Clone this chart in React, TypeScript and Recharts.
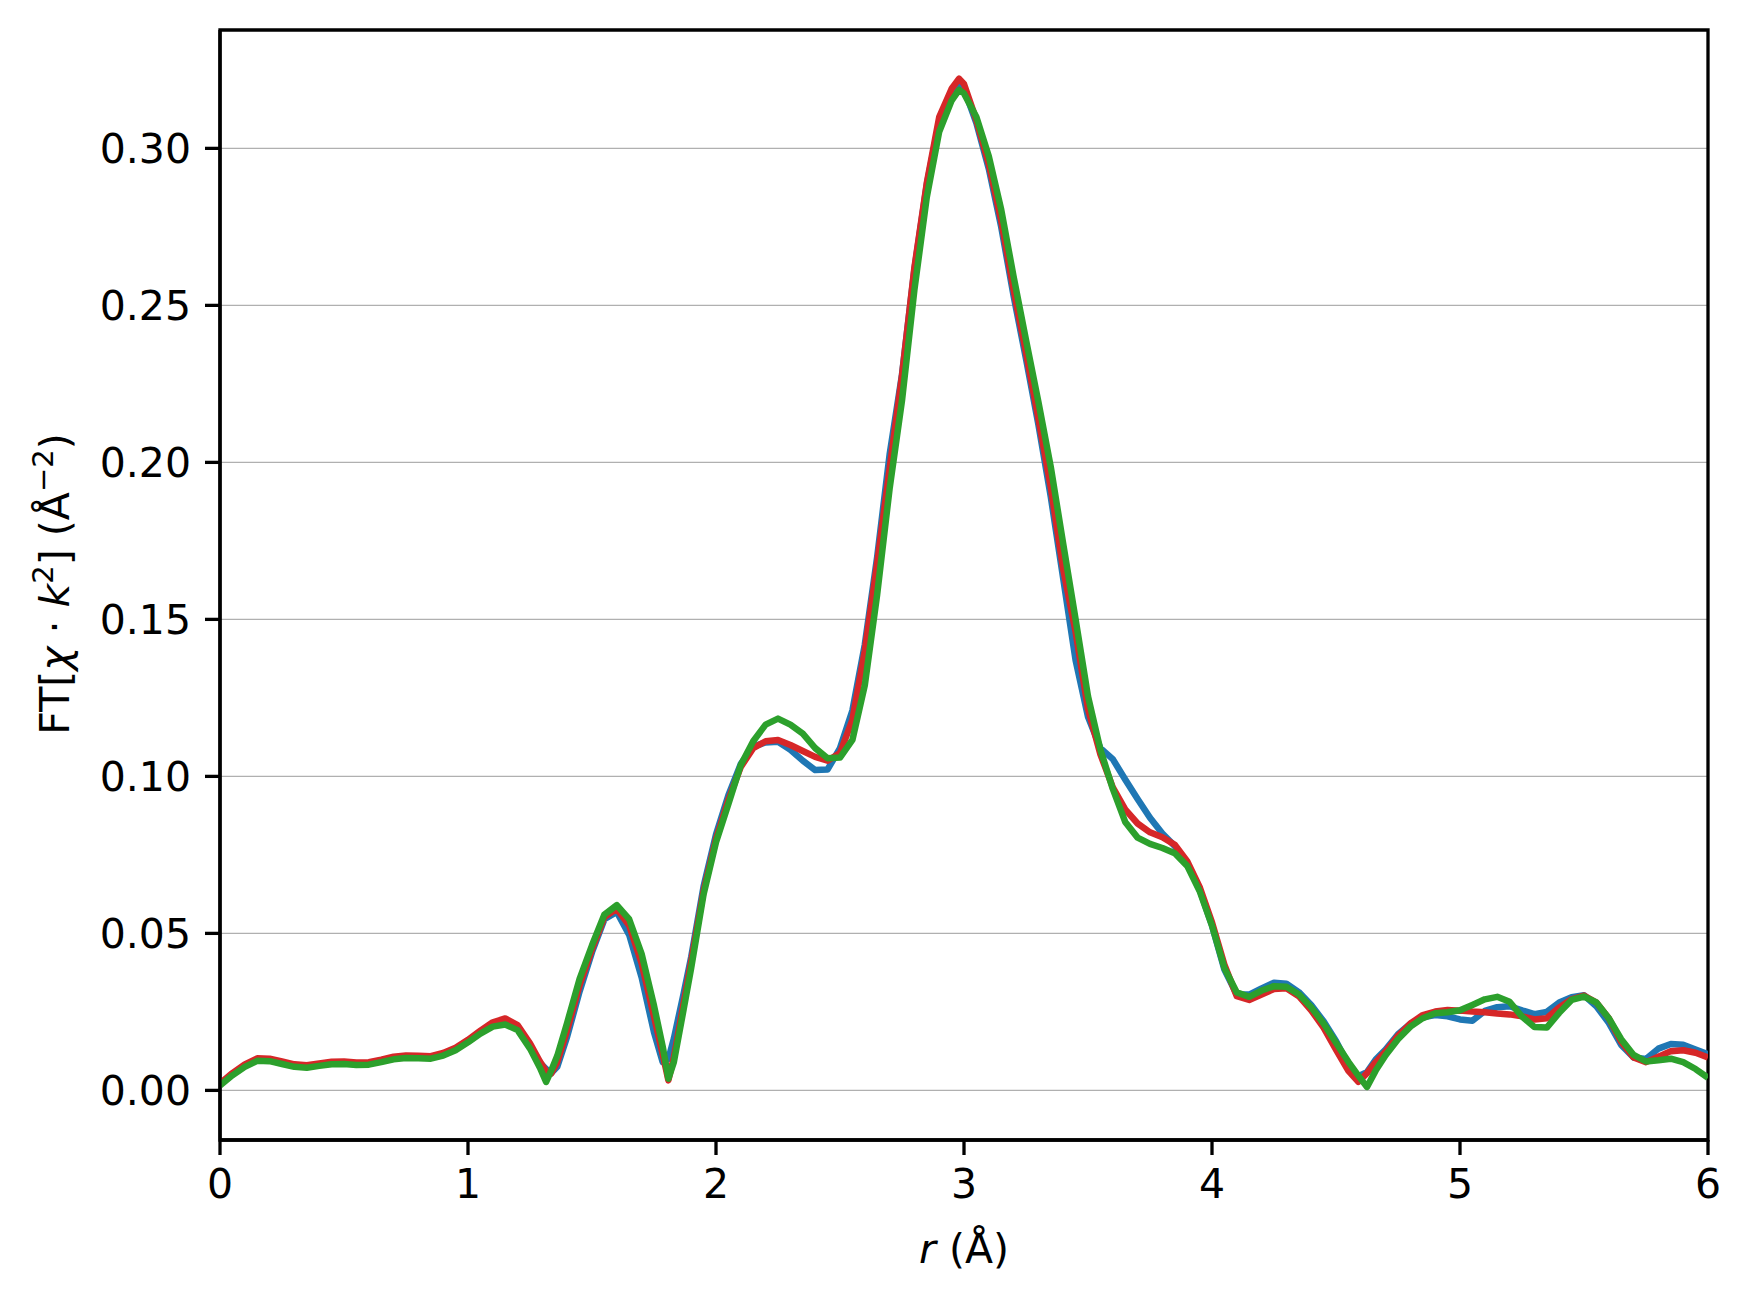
import React from 'react';
import { LineChart, Line, XAxis, YAxis, CartesianGrid, ReferenceArea, Label } from 'recharts';

// r grid (Å)
const R_VALUES = [
  0, 0.05, 0.1, 0.15, 0.2, 0.25, 0.3, 0.35, 0.4, 0.45,
  0.5, 0.55, 0.6, 0.65, 0.7, 0.75, 0.8, 0.85, 0.9, 0.95,
  1.0, 1.05, 1.1, 1.15, 1.2, 1.25,
  1.29, 1.315, 1.335, 1.36, 1.4, 1.45, 1.5, 1.55, 1.6, 1.65, 1.7, 1.75, 1.785, 1.808, 1.83, 1.87, 1.9, 1.95,
  2.0, 2.05, 2.1, 2.15, 2.2, 2.25, 2.3, 2.35, 2.4, 2.45,
  2.5, 2.55, 2.6, 2.65, 2.7, 2.75, 2.8, 2.85, 2.9, 2.95,
  2.98,
  3.0, 3.05, 3.1, 3.15, 3.2, 3.25, 3.3, 3.35, 3.4, 3.45,
  3.5, 3.55, 3.6, 3.65, 3.7, 3.75, 3.8, 3.85, 3.9, 3.95,
  4.0, 4.05, 4.1, 4.15, 4.2, 4.25, 4.3, 4.35, 4.4, 4.45,
  4.5, 4.55,
  4.59, 4.625, 4.66,
  4.7, 4.75, 4.8, 4.85, 4.9, 4.95, 5.0, 5.05, 5.1, 5.15,
  5.2, 5.25, 5.3, 5.35, 5.4, 5.45, 5.5, 5.55, 5.6, 5.65,
  5.7, 5.75, 5.8, 5.85, 5.9, 5.95, 6.0,
];

const BLUE = [
  0.0019, 0.0051, 0.0079, 0.0098, 0.0097, 0.0088, 0.0079, 0.0076, 0.0082, 0.0087,
  0.0088, 0.0085, 0.0086, 0.0094, 0.0103, 0.0107, 0.0106, 0.0105, 0.0114, 0.0131,
  0.0156, 0.0184, 0.0206, 0.0214, 0.0196, 0.014,
  0.0088, 0.0068, 0.0055, 0.0075, 0.0172, 0.0315, 0.044, 0.0545, 0.0568, 0.0495, 0.036, 0.0185, 0.009, 0.01, 0.0165, 0.031, 0.0425, 0.065,
  0.0815, 0.094, 0.104, 0.1095, 0.1108, 0.111, 0.1085, 0.105, 0.102, 0.1022,
  0.109, 0.121, 0.142, 0.17, 0.2025, 0.228, 0.2615, 0.2885, 0.3085, 0.3175,
  0.32,
  0.319, 0.308, 0.2935, 0.275, 0.253, 0.233, 0.212, 0.189, 0.163, 0.137,
  0.119, 0.109, 0.1055, 0.099, 0.0928, 0.0868, 0.0818, 0.0778, 0.072, 0.064,
  0.0525, 0.0385, 0.0305, 0.0305, 0.0325, 0.0343, 0.034, 0.0313, 0.0272, 0.022,
  0.0157, 0.0082,
  0.0045, 0.0058, 0.0098,
  0.013, 0.0179, 0.0212, 0.0233, 0.024, 0.0236, 0.0226, 0.0222, 0.0253, 0.0265,
  0.0268, 0.0255, 0.0243, 0.025, 0.028, 0.0297, 0.0303, 0.0268, 0.0215, 0.0145,
  0.0105, 0.01, 0.0133, 0.0148, 0.0145, 0.013, 0.0115,
];

const RED = [
  0.0022, 0.0055, 0.0083, 0.0102, 0.0101, 0.0092, 0.0083, 0.008, 0.0086, 0.0091,
  0.0092, 0.0089, 0.009, 0.0098, 0.0107, 0.0111, 0.011, 0.0109, 0.0119, 0.0136,
  0.0161, 0.019, 0.0217, 0.0229, 0.0208, 0.015,
  0.0092, 0.006, 0.0053, 0.009, 0.0192, 0.0335, 0.045, 0.0552, 0.0578, 0.0525, 0.0405, 0.0235, 0.0115, 0.0032, 0.0105, 0.028, 0.041, 0.0635,
  0.08, 0.0925, 0.103, 0.109, 0.1112, 0.1116, 0.11, 0.1081, 0.1062, 0.105,
  0.1074, 0.118, 0.14, 0.168, 0.198, 0.2277, 0.262, 0.289, 0.31, 0.319,
  0.3222,
  0.3205, 0.309, 0.295, 0.277, 0.255, 0.235, 0.214, 0.192, 0.166, 0.146,
  0.1215, 0.107, 0.0965, 0.0895, 0.085, 0.0822, 0.0806, 0.0782, 0.073, 0.0648,
  0.0535, 0.04, 0.03, 0.0288, 0.0305, 0.0323, 0.0325, 0.03, 0.0255, 0.02,
  0.013, 0.0062,
  0.0027, 0.0055, 0.009,
  0.0124, 0.0174, 0.0213, 0.024, 0.0251, 0.0256, 0.0254, 0.0251, 0.0249, 0.0245,
  0.0242, 0.0236, 0.0226, 0.023, 0.0264, 0.029, 0.0302, 0.028, 0.023, 0.0155,
  0.0105, 0.009, 0.0107, 0.0125, 0.0128, 0.012, 0.0105,
];

const GREEN = [
  0.0016, 0.0048, 0.0075, 0.0094, 0.0093, 0.0084, 0.0075, 0.0072, 0.0078, 0.0083,
  0.0084, 0.0081, 0.0082, 0.009, 0.0099, 0.0103, 0.0102, 0.0101, 0.0111, 0.0128,
  0.0153, 0.0181, 0.0203, 0.021, 0.0192, 0.0133,
  0.0072, 0.0027, 0.0062, 0.011, 0.0216, 0.0355, 0.0462, 0.056, 0.059, 0.0545, 0.0435, 0.027, 0.014, 0.0037, 0.009, 0.026, 0.039, 0.0625,
  0.079, 0.0912, 0.1036, 0.1112, 0.1165, 0.1184, 0.1165, 0.1136, 0.109, 0.1058,
  0.106, 0.1116, 0.129, 0.158, 0.1916, 0.2197, 0.2549, 0.2845, 0.3053, 0.3152,
  0.3186,
  0.3175, 0.31, 0.2975, 0.2805, 0.2592, 0.239, 0.2193, 0.1985, 0.1741, 0.15,
  0.1255, 0.1085, 0.096, 0.0855, 0.0805, 0.0785, 0.0772, 0.0755, 0.0715, 0.0635,
  0.0525, 0.039, 0.0312, 0.0298, 0.0318, 0.0332, 0.033, 0.0306, 0.0265, 0.0213,
  0.0152, 0.0091,
  0.0047, 0.0011, 0.0063,
  0.0112, 0.0163, 0.0203, 0.023, 0.0246, 0.0249, 0.0255, 0.0272, 0.029, 0.0298,
  0.0282, 0.0235, 0.0202, 0.02, 0.0247, 0.0288, 0.0299, 0.028, 0.023, 0.0163,
  0.0113, 0.0092, 0.0096, 0.0101, 0.009, 0.0068, 0.004,
];

const X_TICKS = [0, 1, 2, 3, 4, 5, 6];
const Y_TICKS = [0, 0.05, 0.1, 0.15, 0.2, 0.25, 0.3];
const Y_MIN = -0.0158;
const Y_MAX = 0.3377;

const FONT = 'DejaVu Sans';
const FS = 41;

const data = R_VALUES.map((r, i) => ({ r, blue: BLUE[i], red: RED[i], green: GREEN[i] }));

const XLabel = () => (
  <text x={956} y={1255} textAnchor="middle" fontFamily={FONT} fontSize={FS} fill="#000">
    <tspan fontStyle="italic">r</tspan>
    <tspan> (Å)</tspan>
  </text>
);

const YLabel = () => {
  const cx = 61;
  const cy = 576;
  return (
    <text
      x={cx}
      y={cy}
      transform={`rotate(-90, ${cx}, ${cy})`}
      textAnchor="middle"
      fontFamily={FONT}
      fontSize={FS}
      fill="#000"
    >
      <tspan>FT[</tspan>
      <tspan fontStyle="italic">χ</tspan>
      <tspan> · </tspan>
      <tspan fontStyle="italic">k</tspan>
      <tspan fontSize={29} dy={-16}>2</tspan>
      <tspan dy={16}>] (Å</tspan>
      <tspan fontSize={29} dy={-16}>−2</tspan>
      <tspan dy={16}>)</tspan>
    </text>
  );
};

const tickStyle = { fontSize: FS, fontFamily: FONT, fill: '#000' };

const App: React.FC = () => {
  return (
    <div style={{ width: 1734, height: 1285, background: '#fff' }}>
      <LineChart
        width={1734}
        height={1285}
        data={data}
        margin={{ top: 22, right: 34, bottom: 73, left: 0 }}
      >
        <CartesianGrid vertical={false} stroke="#b0b0b0" strokeWidth={1.3} />
        <XAxis
          dataKey="r"
          type="number"
          domain={[0, 6]}
          ticks={X_TICKS}
          interval={0}
          allowDataOverflow
          height={80}
          tickSize={15}
          tickMargin={14}
          tick={tickStyle}
          axisLine={{ stroke: '#000', strokeWidth: 3.3 }}
          tickLine={{ stroke: '#000', strokeWidth: 3.3 }}
        >
          <Label content={<XLabel />} />
        </XAxis>
        <YAxis
          type="number"
          domain={[Y_MIN, Y_MAX]}
          ticks={Y_TICKS}
          interval={0}
          allowDataOverflow
          width={212}
          tickSize={15}
          tickMargin={14}
          tick={tickStyle}
          tickFormatter={(v: number) => v.toFixed(2)}
          axisLine={{ stroke: '#000', strokeWidth: 3.3 }}
          tickLine={{ stroke: '#000', strokeWidth: 3.3 }}
        >
          <Label content={<YLabel />} />
        </YAxis>
        <Line type="linear" dataKey="blue" stroke="#1f77b4" strokeWidth={6.5} strokeLinejoin="round" dot={false} activeDot={false} isAnimationActive={false} />
        <Line type="linear" dataKey="red" stroke="#d62728" strokeWidth={6.5} strokeLinejoin="round" dot={false} activeDot={false} isAnimationActive={false} />
        <Line type="linear" dataKey="green" stroke="#2ca02c" strokeWidth={6.5} strokeLinejoin="round" dot={false} activeDot={false} isAnimationActive={false} />
        <ReferenceArea
          x1={0}
          x2={6}
          y1={Y_MIN}
          y2={Y_MAX}
          fill="none"
          stroke="#000"
          strokeWidth={3.3}
          ifOverflow="visible"
        />
      </LineChart>
    </div>
  );
};

export default App;
